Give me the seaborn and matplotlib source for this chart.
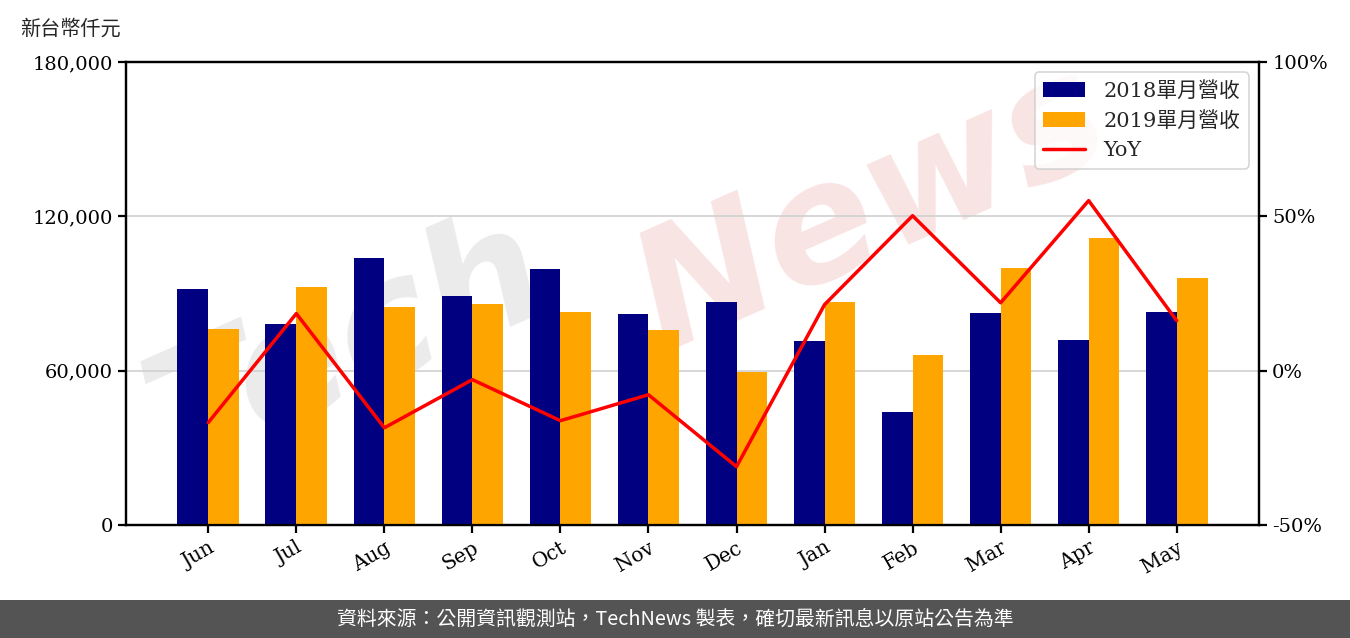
import numpy as np
import pandas as pd
import matplotlib
matplotlib.use('Agg')
import matplotlib.pyplot as plt
import seaborn as sns
from matplotlib.patches import Rectangle
from matplotlib.ticker import FuncFormatter

months = ['Jun', 'Jul', 'Aug', 'Sep', 'Oct', 'Nov', 'Dec', 'Jan', 'Feb', 'Mar', 'Apr', 'May']
rev_2018 = [91800, 78100, 103800, 89000, 99500, 82000, 86700, 71500, 43900, 82400, 71900, 82800]
rev_2019 = [76200, 92500, 84800, 85900, 82800, 75800, 59500, 86700, 66100, 99900, 111600, 96000]
yoy = [-16.8, 18.5, -18.5, -2.9, -16.2, -7.8, -31.1, 21.4, 50.2, 22.0, 55.1, 16.2]

label_2018 = '2018單月營收'
label_2019 = '2019單月營收'

sns.set_theme(style='white')
plt.rcParams['font.family'] = ['DejaVu Serif', 'Noto Sans CJK TC']

df = pd.DataFrame({
    'month': months * 2,
    'revenue': rev_2018 + rev_2019,
    'series': [label_2018] * 12 + [label_2019] * 12,
})

fig = plt.figure(figsize=(13.5, 6.38), dpi=100)
ax = fig.add_axes([0.0933, 0.1771, 0.8393, 0.7257])

# watermark behind everything
ax.text(0.0, 0.12, 'Tech', transform=ax.transAxes, fontsize=118, color='#ebebeb',
        rotation=24, fontstyle='italic', family='DejaVu Sans', fontweight='bold',
        zorder=0)
ax.text(0.43, 0.38, 'News', transform=ax.transAxes, fontsize=118, color='#f9e4e4',
        rotation=24, fontstyle='italic', family='DejaVu Sans', fontweight='bold',
        zorder=0)

sns.barplot(data=df, x='month', y='revenue', hue='series', order=months,
            palette={label_2018: '#000080', label_2019: '#FFA500'},
            width=0.7, saturation=1, linewidth=0, ax=ax, zorder=3, legend=True)

ax.set_ylim(0, 180000)
ax.set_yticks([0, 60000, 120000, 180000])
ax.yaxis.set_major_formatter(FuncFormatter(lambda v, p: f'{int(v):,}'))
ax.yaxis.grid(True, color='#d0d0d0', linewidth=1.2, zorder=1)
ax.set_axisbelow(True)
ax.set_xlabel('')
ax.set_ylabel('')
ax.set_xlim(-0.935, 11.935)

ax2 = ax.twinx()
sns.lineplot(x=np.arange(12), y=yoy, color='red', linewidth=2.5, ax=ax2, label='YoY', legend=False)
ax2.set_ylim(-50, 100)
ax2.set_yticks([-50, 0, 50, 100])
ax2.yaxis.set_major_formatter(FuncFormatter(lambda v, p: f'{int(v)}%'))
ax2.set_xlim(-0.935, 11.935)

for a in (ax, ax2):
    for s in a.spines.values():
        s.set_visible(True)
        s.set_color('black')
        s.set_linewidth(1.6)
    a.tick_params(direction='out', length=6, width=1.6, color='black', labelsize=14,
                  bottom=True, left=True, right=True, colors='black')
ax.tick_params(axis='y', right=False)
ax2.tick_params(axis='y', left=False)
ax.tick_params(axis='x', labelsize=14.5)

plt.setp(ax.get_xticklabels(), rotation=30, ha='right', rotation_mode='anchor')

handles, labels = ax.get_legend_handles_labels()
h2, l2 = ax2.get_legend_handles_labels()
ax.get_legend().remove()
leg = ax2.legend(handles + h2, labels + l2, loc='upper right', fontsize=15,
                 frameon=True, framealpha=0.8, edgecolor='#cccccc', fancybox=True,
                 borderaxespad=0.5, handletextpad=0.9)
leg.get_frame().set_linewidth(1.2)

fig.text(0.015, 0.955, '新台幣仟元', fontsize=14.5, family=['Noto Sans CJK TC'], va='center')

fig.patches.append(Rectangle((0, 0), 1, 38 / 638, transform=fig.transFigure,
                             facecolor='#545454', edgecolor='none', zorder=0))
fig.text(0.5, 19 / 638, '資料來源：公開資訊觀測站，TechNews 製表，確切最新訊息以原站公告為準',
         color='white', fontsize=14.3, ha='center', va='center',
         family=['Noto Sans CJK TC', 'DejaVu Sans'])

fig.savefig('out.png', dpi=100)
